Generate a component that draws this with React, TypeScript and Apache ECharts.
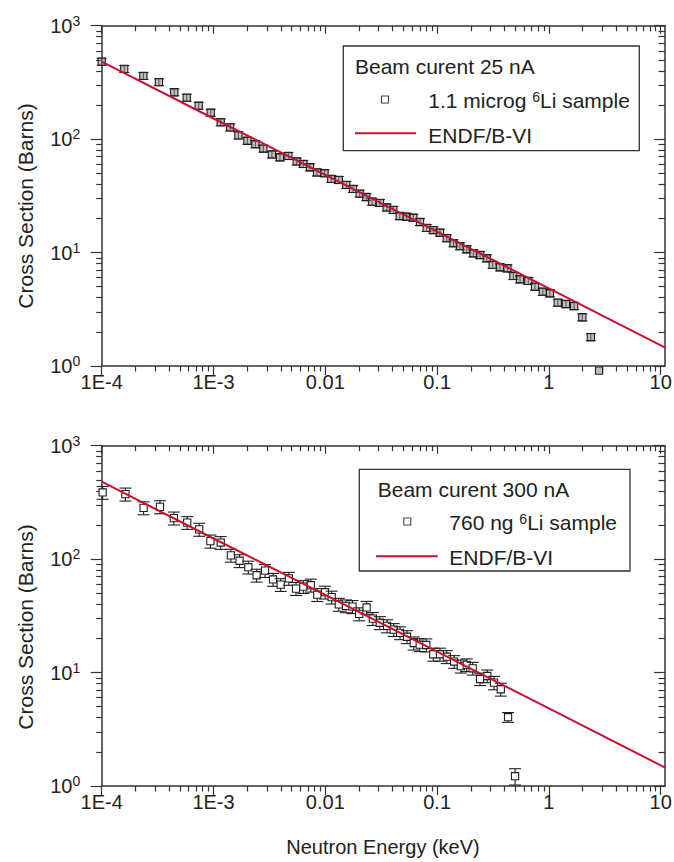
import React, { useEffect, useRef } from 'react';
import * as echarts from 'echarts';

// ---------- data (keV, barns) ----------
const topE = [1.0e-4, 1.59e-4, 2.36e-4, 3.25e-4, 4.46e-4, 5.76e-4, 7.37e-4, 9.44e-4,
  1.16e-3, 1.41e-3, 1.67e-3, 2.01e-3, 2.37e-3, 2.79e-3, 3.33e-3, 3.93e-3, 4.67e-3, 5.55e-3, 6.36e-3, 7.29e-3, 8.43e-3, 9.84e-3,
  0.0113, 0.0132, 0.0154, 0.0177, 0.0203, 0.0233, 0.0262, 0.0308, 0.0354, 0.0406, 0.0463, 0.0534, 0.0612, 0.0703, 0.0807, 0.0925,
  0.106, 0.122, 0.14, 0.16, 0.184, 0.211, 0.242, 0.278, 0.314, 0.365, 0.425, 0.481, 0.551, 0.654, 0.751, 0.881,
  1.02, 1.2, 1.42, 1.68, 1.99, 2.37, 2.81];
const topSigma = [482, 416, 361, 318, 259, 232, 197, 171,
  141, 127, 108, 96.8, 90.2, 82.6, 73.3, 69.2, 71.1, 63.6, 60.4, 56.5, 50.9, 50.1,
  44.6, 43.7, 39.5, 36.4, 33.1, 30.9, 28.1, 27.4, 25.0, 23.8, 21.0, 20.7, 20.3, 18.6, 16.5, 15.8,
  15.0, 13.4, 12.1, 11.4, 10.7, 9.86, 9.52, 8.91, 7.78, 7.42, 7.27, 6.22, 5.81, 5.62, 5.0, 4.52,
  4.38, 3.62, 3.52, 3.38, 2.69, 1.8, 0.91];
const topErr = [34, 29, 25, 22, 18, 16, 14, 12,
  10, 9, 7.6, 6.8, 6.3, 5.8, 5.1, 4.8, 5.0, 4.5, 4.2, 4.0, 3.6, 3.5,
  3.1, 3.1, 2.8, 2.5, 2.3, 2.2, 2.0, 1.9, 1.75, 1.67, 1.47, 1.45, 1.42, 1.3, 1.16, 1.1,
  1.05, 0.94, 0.85, 0.8, 0.75, 0.69, 0.67, 0.62, 0.54, 0.52, 0.51, 0.44, 0.41, 0.39, 0.35, 0.32,
  0.31, 0.25, 0.25, 0.24, 0.19, 0.13, 0];

const botE = [1.02e-4, 1.63e-4, 2.37e-4, 3.32e-4, 4.42e-4, 5.82e-4, 7.45e-4, 9.38e-4,
  1.16e-3, 1.43e-3, 1.71e-3, 2.05e-3, 2.43e-3, 2.89e-3, 3.41e-3, 3.99e-3, 4.72e-3, 5.47e-3, 6.36e-3, 7.42e-3, 8.48e-3, 9.94e-3,
  0.0114, 0.0132, 0.0153, 0.0175, 0.0201, 0.0234, 0.0266, 0.0307, 0.0357, 0.0409, 0.0466, 0.0538, 0.0618, 0.0699, 0.08, 0.0925,
  0.106, 0.122, 0.142, 0.163, 0.184, 0.208, 0.242, 0.281, 0.323, 0.371, 0.431, 0.498];
const botSigma = [387, 374, 283, 289, 230, 210, 183, 144,
  140, 108, 96.8, 84.9, 72.1, 79.2, 66.2, 59.6, 67.6, 55.0, 57.2, 58.9, 48.6, 51.1,
  46.2, 39.9, 38.7, 38.1, 32.9, 37.5, 29.9, 27.5, 25.8, 23.9, 22.4, 20.7, 18.2, 17.6, 17.5, 14.5,
  14.5, 13.8, 12.5, 11.4, 11.7, 10.9, 8.78, 9.33, 8.15, 7.13, 4.04, 1.22];
const botErr = [50, 49, 37, 38, 30, 27, 24, 19,
  18, 14, 12.6, 11, 9.4, 10.3, 8.6, 7.7, 8.8, 7.2, 7.4, 7.7, 6.3, 6.6,
  6.0, 5.2, 5.0, 5.0, 4.3, 4.9, 3.9, 3.6, 3.4, 3.1, 2.9, 2.7, 2.4, 2.3, 2.3, 1.9,
  1.9, 1.8, 1.6, 1.5, 1.5, 1.4, 1.1, 1.2, 1.1, 0.93, 0.4, 0.2];

const endfE = [1e-4, 1e-3, 1e-2, 0.1, 1, 10, 10.92];
const endfSigma = [482, 152, 48.5, 15.3, 4.84, 1.52, 1.45];

const xDecades = [-4, -3, -2, -1, 0, 1];
const xTickLabels = ['1E-4', '1E-3', '0.01', '0.1', '1', '10'];
const yDecades = [0, 1, 2, 3];

const titlesTop = { beam: 'Beam curent 25 nA', sample: '1.1 microg {s|6}Li sample', model: 'ENDF/B-VI' };
const titlesBot = { beam: 'Beam curent 300 nA', sample: '760 ng {s|6}Li sample', model: 'ENDF/B-VI' };

// ---------- styling ----------
const FONT = '"Liberation Sans", Arial, Helvetica, sans-serif';
const AX = '#333';
const TXT = '#222';
const RED = '#c8102e';
const XMIN = -4;
const XMAX = Math.log10(10.92);
const GRID_LEFT = 101.7;
const GRID_W = 563.3;
const GRID_H = 340.3;
const GRID_TOPS = [25.7, 445.7];

const minorX: number[] = [];
for (let n = -4; n <= 0; n++) for (let k = 2; k <= 9; k++) minorX.push(Math.log10(k * Math.pow(10, n)));
const minorY: number[] = [];
for (let n = 0; n <= 2; n++) for (let k = 2; k <= 9; k++) minorY.push(Math.log10(k * Math.pow(10, n)));

function xAxesFor(g: number) {
  const base = (position: string) => ({
    gridIndex: g, type: 'value', min: XMIN, max: XMAX, position,
    splitLine: { show: false },
    axisLine: { show: false, onZero: false, lineStyle: { color: AX, width: 1.5 } },
    axisLabel: { show: false },
  });
  const tickStyle = { color: AX, width: 1.2 };
  return [
    {
      ...base('bottom'),
      axisLine: { show: true, onZero: false, lineStyle: { color: AX, width: 1.5 } },
      axisTick: { show: true, customValues: xDecades, length: 9, lineStyle: tickStyle },
      axisLabel: {
        show: true, customValues: xDecades, margin: 6, fontSize: 20, color: TXT, fontFamily: FONT,
        formatter: (v: number) => {
          const i = xDecades.indexOf(Math.round(v));
          return i >= 0 ? xTickLabels[i] : '';
        },
      },
    },
    { ...base('bottom'), axisTick: { show: true, customValues: minorX, length: 5.5, lineStyle: tickStyle } },
    {
      ...base('top'),
      axisLine: { show: true, onZero: false, lineStyle: { color: AX, width: 1.5 } },
      axisTick: { show: true, inside: true, customValues: xDecades, length: 8, lineStyle: tickStyle },
    },
    { ...base('top'), axisTick: { show: true, inside: true, customValues: minorX, length: 5.5, lineStyle: tickStyle } },
  ];
}

function yAxesFor(g: number) {
  const base = (position: string) => ({
    gridIndex: g, type: 'value', min: 0, max: 3, position,
    splitLine: { show: false },
    axisLine: { show: false, onZero: false, lineStyle: { color: AX, width: 1.5 } },
    axisLabel: { show: false },
  });
  const tickStyle = { color: AX, width: 1.2 };
  return [
    {
      ...base('left'),
      axisLine: { show: true, onZero: false, lineStyle: { color: AX, width: 1.5 } },
      axisTick: { show: true, customValues: yDecades, length: 11, lineStyle: tickStyle },
      axisLabel: {
        show: true, customValues: yDecades, margin: 21.5, color: TXT, fontFamily: FONT,
        formatter: (v: number) => `{b|10}{s|${Math.round(v)}}`,
        rich: {
          b: { fontSize: 20, lineHeight: 24, color: TXT, fontFamily: FONT },
          s: { fontSize: 14, lineHeight: 14, verticalAlign: 'top', color: TXT, fontFamily: FONT },
        },
      },
    },
    { ...base('left'), axisTick: { show: true, customValues: minorY, length: 5.5, lineStyle: tickStyle } },
    {
      ...base('right'),
      axisLine: { show: true, onZero: false, lineStyle: { color: AX, width: 1.5 } },
      axisTick: { show: true, inside: true, customValues: yDecades, length: 11, lineStyle: tickStyle },
    },
    { ...base('right'), axisTick: { show: true, inside: true, customValues: minorY, length: 6.5, lineStyle: tickStyle } },
  ];
}

function pointData(E: number[], S: number[], err: number[]) {
  return E.map((e, i) => {
    const hi = S[i] + err[i];
    const lo = Math.max(S[i] - err[i], 1e-6);
    return [Math.log10(e), Math.log10(S[i]), Math.log10(hi), Math.log10(lo)];
  });
}

function makeRender(fill: string, half: number, capHalf: number) {
  return (_params: any, api: any) => {
    const x = api.value(0);
    const p = api.coord([x, api.value(1)]);
    const hi = api.coord([x, api.value(2)]);
    const lo = api.coord([x, api.value(3)]);
    const st = { stroke: '#1e1e1e', lineWidth: 1.1, fill: 'none' };
    const children: any[] = [];
    if (Math.abs(lo[1] - hi[1]) > 0.5) {
      children.push({ type: 'line', shape: { x1: p[0], y1: hi[1], x2: p[0], y2: lo[1] }, style: st });
      children.push({ type: 'line', shape: { x1: p[0] - capHalf, y1: hi[1], x2: p[0] + capHalf, y2: hi[1] }, style: st });
      children.push({ type: 'line', shape: { x1: p[0] - capHalf, y1: lo[1], x2: p[0] + capHalf, y2: lo[1] }, style: st });
    }
    children.push({
      type: 'rect',
      shape: { x: p[0] - half, y: p[1] - half, width: half * 2, height: half * 2 },
      style: { fill, stroke: '#1e1e1e', lineWidth: 1.1 },
    });
    return { type: 'group', children };
  };
}

function legendGraphics(box: number[], titles: any, rows: any) {
  const [bx, by, bw, bh] = box;
  const textStyle = (text: string, x: number, y: number) => ({
    type: 'text', x, y,
    style: {
      text, fill: TXT, fontSize: 21, fontFamily: FONT, align: 'left', verticalAlign: 'middle',
      rich: { s: { fontSize: 14, lineHeight: 14, verticalAlign: 'top', fill: TXT, fontFamily: FONT } },
    },
    z: 10,
  });
  return [
    { type: 'rect', shape: { x: bx, y: by, width: bw, height: bh }, style: { fill: '#fff', stroke: AX, lineWidth: 1.3 }, z: 9 },
    textStyle(titles.beam, rows.titleX, rows.titleY),
    {
      type: 'rect', shape: { x: rows.markX - 3.5, y: rows.markY - 3.5, width: 7, height: 7 },
      style: { fill: 'none', stroke: '#444', lineWidth: 1.1 }, z: 10,
    },
    textStyle(titles.sample, rows.textX, rows.sampleY),
    {
      type: 'line', shape: { x1: rows.lineX1, y1: rows.lineY, x2: rows.lineX2, y2: rows.lineY },
      style: { stroke: RED, lineWidth: 2 }, z: 10,
    },
    textStyle(titles.model, rows.textX, rows.modelY),
  ];
}

export default function App() {
  const ref = useRef<HTMLDivElement>(null);
  useEffect(() => {
    if (!ref.current) return;
    const chart = echarts.init(ref.current, undefined, { renderer: 'svg' });
    const endfData = endfE.map((e, i) => [Math.log10(e), Math.log10(endfSigma[i])]);
    const grids = GRID_TOPS.map((t) => ({
      left: GRID_LEFT, top: t, width: GRID_W, height: GRID_H, containLabel: false, outerBoundsMode: 'none',
    }));
    const option: any = {
      animation: false,
      backgroundColor: '#fff',
      textStyle: { fontFamily: FONT },
      grid: grids,
      xAxis: [...xAxesFor(0), ...xAxesFor(1)],
      yAxis: [...yAxesFor(0), ...yAxesFor(1)],
      series: [
        {
          type: 'custom', name: 'top data', coordinateSystem: 'cartesian2d', xAxisIndex: 0, yAxisIndex: 0,
          clip: false, data: pointData(topE, topSigma, topErr),
          renderItem: makeRender('rgba(140,140,140,0.55)', 3.6, 5), z: 2,
        },
        {
          type: 'line', name: 'ENDF top', xAxisIndex: 0, yAxisIndex: 0, data: endfData, showSymbol: false,
          lineStyle: { color: RED, width: 2 }, z: 3,
        },
        {
          type: 'custom', name: 'bottom data', coordinateSystem: 'cartesian2d', xAxisIndex: 4, yAxisIndex: 4,
          clip: false, data: pointData(botE, botSigma, botErr),
          renderItem: makeRender('#fff', 3.6, 6), z: 2,
        },
        {
          type: 'line', name: 'ENDF bottom', xAxisIndex: 4, yAxisIndex: 4, data: endfData, showSymbol: false,
          lineStyle: { color: RED, width: 2 }, z: 3,
        },
      ],
      graphic: [
        ...legendGraphics([343.3, 46, 296, 104.7], titlesTop, {
          titleX: 355, titleY: 66.5, markX: 385, markY: 99.5, textX: 428.3, sampleY: 100,
          lineX1: 355, lineX2: 416, lineY: 133.3, modelY: 135,
        }),
        ...legendGraphics([359.3, 469.3, 270.7, 101.7], titlesBot, {
          titleX: 377.7, titleY: 489, markX: 407.3, markY: 521.5, textX: 449.3, sampleY: 522.3,
          lineX1: 376, lineX2: 437.7, lineY: 556.3, modelY: 557.3,
        }),
        {
          type: 'text', x: 25, y: 206, rotation: Math.PI / 2,
          style: { text: 'Cross Section (Barns)', fill: TXT, fontSize: 21, fontFamily: FONT, align: 'center', verticalAlign: 'middle' },
        },
        {
          type: 'text', x: 25, y: 627, rotation: Math.PI / 2,
          style: { text: 'Cross Section (Barns)', fill: TXT, fontSize: 21, fontFamily: FONT, align: 'center', verticalAlign: 'middle' },
        },
        {
          type: 'text', x: 383, y: 847,
          style: { text: 'Neutron Energy (keV)', fill: TXT, fontSize: 20, fontFamily: FONT, align: 'center', verticalAlign: 'middle' },
        },
      ],
    };
    chart.setOption(option);
    return () => chart.dispose();
  }, []);
  return <div ref={ref} style={{ position: 'fixed', left: 0, top: 0, width: 674, height: 862, background: '#fff' }} />;
}
